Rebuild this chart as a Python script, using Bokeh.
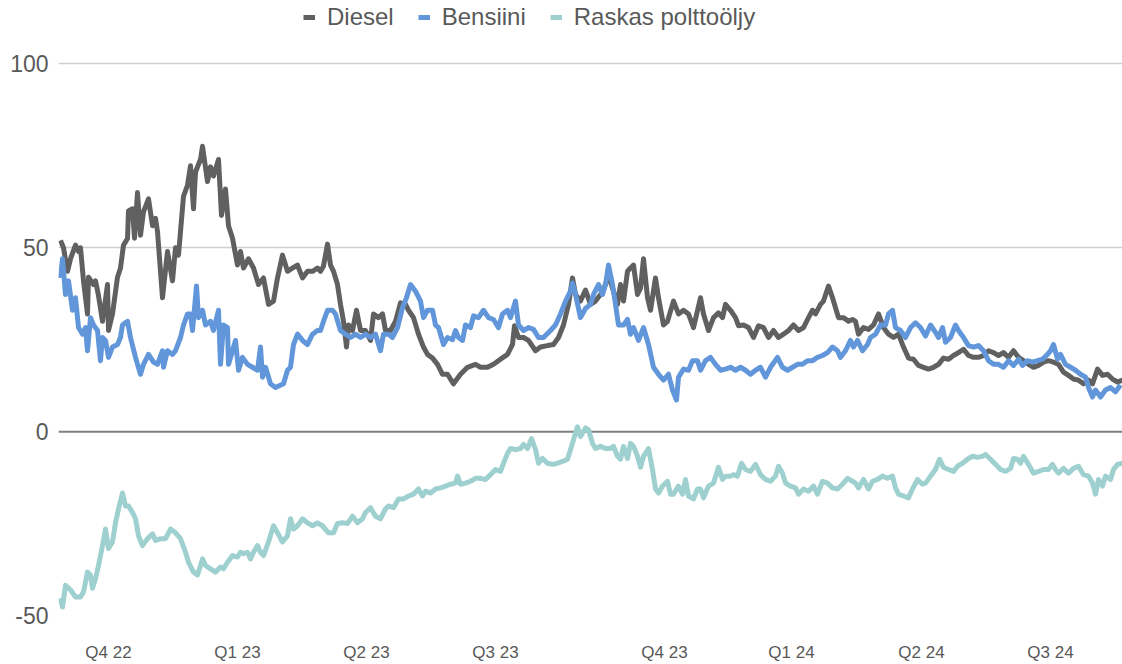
from bokeh.plotting import figure
from bokeh.models import FixedTicker, Legend, LegendItem, Span, Range1d
from bokeh.embed import file_html
from bokeh.resources import INLINE

# time index (trading-day based position) and values
diesel_t = [0,3,7,10,15,18,20,23,27,28,33,35,38,42,47,48,52,57,60,63,67,68,72,74,77,80,83,88,92,95,97,102,107,112,115,118,123,127,130,133,135,140,142,147,150,153,158,161,165,168,172,177,180,183,188,193,198,203,208,213,217,222,227,232,237,242,247,252,257,260,263,267,270,273,277,280,283,286,288,292,296,300,305,310,313,318,322,325,330,335,340,345,348,353,358,363,367,372,377,382,387,393,400,407,415,420,427,433,440,447,452,454,458,463,468,475,480,487,493,498,503,508,512,515,520,525,530,535,540,545,548,553,557,560,563,567,570,573,577,580,583,587,590,595,598,603,607,613,618,623,628,633,640,643,648,653,658,662,665,670,675,678,683,688,693,698,703,708,713,718,723,728,733,738,743,748,752,755,760,763,768,772,775,778,783,788,792,795,798,803,808,813,818,823,828,833,838,843,848,853,858,863,868,873,878,883,888,893,898,903,908,913,918,923,928,933,938,943,948,953,958,963,968,973,978,983,988,993,998,1003,1008,1013,1018,1023,1028,1032,1037,1042,1047,1052,1057,1062]
diesel_v = [52,50,43.6,47,50.7,49,50,41,32,42,40,41,37,30,40,27.5,32,42,44.5,50.7,52.5,60,60.6,52.6,65,53.4,59.8,63.3,56,58,54.4,36.4,49,41,50,48,64,67,72.3,60.6,70.6,74,77.6,68,72,69.5,74,58.8,66,56,52.6,45.3,49,44.5,47,44.5,40,41.8,34.6,35.5,41.8,48,43.6,44.5,45.3,41.8,43.6,43.6,44.5,43.6,45,51,45.3,43.6,40,34.6,30,23,29,27.5,33,27.5,27.5,24.8,32,31,32,27.5,27.5,30,35,34.6,33,31,26.5,23,21,20,18.3,15.6,15.6,13,15.6,17.5,18.3,17.5,17.5,18.3,19.7,21,23.7,28.8,25.6,25.6,24.8,22,23,23.4,23.7,25.6,29,34.6,41.8,37.3,35.5,38.5,34.6,35.5,37.3,40,42.6,38.2,34.6,40,35.5,43.6,44.5,45.3,37.3,39,47,36.4,33,41.8,36.4,29,30,35.5,32,33,32,28.3,36.4,32,27.5,31,32.3,31,34.6,33,31,28.8,29,28.3,25.6,28.8,28.3,25.6,27.5,25.6,26.5,27.5,29,27.5,28.3,31,33,32,34.6,35.5,39.6,36.4,33.7,31,31,30,30.5,30,26.5,28.3,27.8,29,32,28.3,26.5,25.6,26.5,23,20,19.7,18,17.5,17,17.5,18.3,20,19.7,20.7,21.5,22.4,20.7,20.2,20.2,20.7,22,21.5,20.7,21.5,20.2,22,20.2,19.3,18.3,17.5,18,18.9,19.3,18.9,18.3,16.2,15.3,14.3,14,13,14,13,17,15.3,15.6,14.3,13.5,14]

bensiini_t = [0,2,5,8,12,15,18,22,25,27,30,33,37,40,42,45,48,52,57,60,62,67,70,75,80,83,88,93,97,102,103,107,112,115,120,123,127,130,132,136,138,142,145,150,153,158,160,163,167,168,172,175,178,182,187,192,197,200,202,205,210,215,223,227,230,233,237,242,247,252,257,260,263,267,272,275,280,285,290,295,300,305,310,315,320,323,328,332,337,342,346,350,355,360,363,367,372,375,378,383,387,392,395,398,402,405,410,413,418,423,428,433,438,442,447,450,455,458,463,468,473,478,483,490,495,500,505,510,512,515,520,525,530,533,538,542,545,548,552,555,558,563,567,570,573,578,583,588,593,598,603,608,612,616,618,623,628,632,637,640,645,650,655,660,665,670,675,680,685,690,695,700,705,710,717,722,727,732,737,742,747,752,757,762,767,772,777,780,785,790,793,797,802,807,810,815,820,825,828,832,835,840,845,850,855,860,865,870,875,878,882,885,890,895,898,903,908,913,918,923,928,933,938,943,948,953,958,962,967,972,977,982,987,990,993,997,1000,1005,1010,1015,1020,1025,1028,1032,1035,1040,1045,1050,1055,1060]
bensiini_v = [41.8,47,37.3,41,33,36.4,28.3,26.5,28.3,22,31,29,27.5,19.3,25.6,24.8,20.2,23,23.7,25.6,29,30,25.6,20.2,15.6,18.3,21,18.9,18.3,22,17.5,22,21,22,25.6,29,32,32,27.5,39.6,31,33,29,30,27.5,33,18.3,29,28.3,18.3,22,24.8,16.7,20.2,18.3,17.5,16.7,23,14.8,17.5,13,12,13,16.7,17.5,23.7,26.5,24.8,23.7,26.5,27.5,27.5,30,33,33,32,27.5,26.5,25.6,26.5,25.6,26.5,25.6,26.5,22,26.5,26.5,25.6,28.3,33.7,36.4,40,38.2,35.5,31,33,33,29,28.3,23.7,25.6,25,27.5,25.6,24.8,29,28.3,31.5,31,33,31,30.5,28.3,32,33,31,35.5,29,27.5,28.3,27.8,25.6,25.6,27.5,29,32,35.5,38.2,40.4,37.3,31,33.5,34.6,37.3,40,37.3,40,45.3,40,34.6,29,29,30.5,26.5,28.3,24.8,28.3,23.7,17.5,15.6,14,15.6,11.3,8.6,14.8,17,16.7,19.3,19.3,16.7,19.3,20.2,18.3,16.7,17,17.5,16.7,17.5,16.7,15.6,16.7,17.5,14.8,17.5,20.2,17.5,16.7,17.5,18.3,18.3,19.3,19.3,20.2,20.7,21.5,23,22,20.2,22,24.8,23,24.8,22,23.7,25.6,26.5,29,29,32,33,28.3,27.5,25.6,28.3,29.6,28.3,26,29,27,25.6,28.3,24.3,25.6,29,27.5,25.6,23.4,23,23.4,22,19.3,18.3,18.3,17.5,19.3,18,19.7,18,19.3,18.9,19.3,19.7,21,22,23.7,19.7,21,18.3,17.5,16.7,15.6,14.8,12,9.4,11.3,9.4,11.3,12,10.8,12.7]

raskas_t = [0,2,5,10,15,20,23,27,30,32,35,38,42,45,48,52,55,58,62,65,68,72,75,78,82,87,92,95,100,105,110,115,120,125,128,133,137,142,145,150,155,160,163,167,172,177,180,183,187,190,193,197,200,203,208,213,217,222,227,230,233,237,242,247,252,257,262,268,273,277,282,287,292,297,302,305,310,315,320,325,328,333,338,343,348,353,358,362,365,370,375,380,385,390,395,397,400,405,410,415,420,425,430,435,440,443,447,450,455,460,463,467,471,475,478,482,487,492,497,502,507,510,513,517,520,525,528,532,535,540,545,550,553,557,560,563,567,570,573,577,580,583,588,592,595,598,602,607,610,613,618,622,625,628,633,637,640,643,648,653,658,662,665,670,673,677,681,685,690,695,700,705,710,715,718,722,725,730,735,738,743,748,753,757,762,767,772,777,782,787,792,795,798,803,808,812,817,822,827,832,835,838,843,848,852,857,862,865,870,875,879,883,888,893,897,902,907,912,917,922,925,930,935,940,945,950,953,957,960,963,968,973,978,983,988,992,995,998,1003,1008,1013,1018,1023,1028,1032,1035,1038,1042,1045,1050,1053,1057,1062]
raskas_v = [-45.3,-47.7,-41.8,-43,-45,-45,-43.6,-38.2,-39,-42.6,-40,-36.4,-31,-26.5,-31.8,-30,-24.8,-21,-16.7,-20.2,-20.2,-22,-23.7,-28.3,-31,-29.1,-27.8,-29.6,-29.1,-29.1,-26.5,-27.5,-29.1,-32.8,-35.5,-38.2,-39,-34.6,-36.4,-37.3,-38.2,-36.8,-37.3,-35.5,-33.7,-34.1,-32.8,-33.2,-32.8,-34.6,-32.8,-31,-32.8,-33.7,-30,-25.6,-27.5,-30,-28.3,-23.7,-26.5,-25.6,-23.7,-24.8,-25.6,-24.8,-25.6,-27.5,-27.5,-25,-24.8,-25,-23,-24.8,-23.7,-22,-20.7,-23,-23.7,-21,-20.2,-20.7,-18.3,-18.3,-17.5,-17,-15.6,-17.5,-16.2,-16.7,-15.6,-15.3,-14.8,-14.3,-14,-12.1,-14.3,-14,-13.5,-12.7,-12.7,-13,-11.7,-10.3,-10.8,-8.6,-5.9,-4.6,-4.9,-4.6,-3.5,-4.6,-1.9,-4.9,-8.6,-7.3,-8.6,-8.9,-8.6,-8.1,-7.5,-4.9,-2.2,1.3,-1.3,1.0,0.5,-3.2,-4.6,-4,-4.6,-4.6,-4,-6.7,-7.5,-4,-7.3,-3.2,-4,-6.7,-9.7,-6.7,-4.6,-10.3,-15.6,-16.7,-14.8,-13.5,-17,-17,-14.8,-17,-13,-17.5,-18.3,-15.6,-15.6,-18,-14.8,-14,-9.7,-13,-12.1,-12.1,-11.7,-12.1,-8.6,-10.3,-10.8,-8.9,-11.7,-13,-13.5,-12.1,-9.4,-11.3,-14,-14.8,-15.3,-17,-15.6,-16.2,-14.8,-17,-13.5,-14,-15.3,-15.6,-14.3,-12.7,-13.5,-14,-15.3,-13,-15.6,-13.5,-13,-12.1,-12.7,-12.1,-15.3,-17,-17.5,-18,-15.6,-13,-14.3,-14,-12.1,-10.3,-7.5,-9.7,-10.3,-10.8,-9.4,-8.6,-7.5,-6.7,-7,-6.7,-6.2,-7.5,-8.9,-10.3,-10.8,-10,-7.3,-7.5,-8.6,-6.7,-8.9,-11.3,-10.8,-10.3,-10.3,-8.9,-10.3,-11.3,-10,-11.3,-10,-9.4,-11.7,-12.1,-14,-17,-13,-14.8,-12.1,-13,-10.3,-8.9,-8.6]

quarter_labels = ["Q4 22", "Q1 23", "Q2 23", "Q3 23", "Q4 23", "Q1 24", "Q2 24", "Q3 24"]
quarter_pos = [48, 177, 306, 435, 604, 731, 861, 990]
y_ticks = [-50, 0, 50, 100]
y_tick_labels = ["-50", "0", "50", "100"]

FONT = "Liberation Sans"
TXT = "#595959"

# frame spans full height above the axis; the extra room above 100 holds the legend
p = figure(width=1122, height=664, output_backend="svg", toolbar_location=None,
           x_range=Range1d(-2, 1062), y_range=Range1d(-50, 117.24),
           min_border_left=58, min_border_right=0, min_border_top=0, min_border_bottom=43)
p.outline_line_color = None
p.background_fill_color = "white"
p.border_fill_color = "white"

p.xgrid.grid_line_color = None
p.ygrid.ticker = FixedTicker(ticks=[-50, 50, 100])
p.ygrid.grid_line_color = "#d0d0d0"
p.ygrid.grid_line_width = 1.5

zero = Span(location=0, dimension="width", line_color="#808080", line_width=2, level="underlay")
p.add_layout(zero)

p.yaxis.ticker = FixedTicker(ticks=y_ticks)
p.yaxis.major_label_overrides = {t: s for t, s in zip(y_ticks, y_tick_labels)}
p.yaxis.axis_line_color = None
p.yaxis.major_tick_line_color = None
p.yaxis.minor_tick_line_color = None
p.yaxis.major_tick_out = 0
p.yaxis.major_label_text_font = FONT
p.yaxis.major_label_text_font_size = "23px"
p.yaxis.major_label_text_color = TXT
p.yaxis.major_label_standoff = 10

p.xaxis.ticker = FixedTicker(ticks=quarter_pos)
p.xaxis.major_label_overrides = {pos: lab for pos, lab in zip(quarter_pos, quarter_labels)}
p.xaxis.axis_line_color = None
p.xaxis.major_tick_line_color = None
p.xaxis.minor_tick_line_color = None
p.xaxis.major_tick_out = 0
p.xaxis.major_label_text_font = FONT
p.xaxis.major_label_text_font_size = "17px"
p.xaxis.major_label_text_color = TXT
p.xaxis.major_label_standoff = 27

r_d = p.line(diesel_t, diesel_v, line_color="#606060", line_width=5, line_join="round")
r_b = p.line(bensiini_t, bensiini_v, line_color="#6197DA", line_width=5, line_join="round")
r_r = p.line(raskas_t, raskas_v, line_color="#9FD0D0", line_width=5, line_join="round")

legend = Legend(items=[LegendItem(label="Diesel", renderers=[r_d]),
                       LegendItem(label="Bensiini", renderers=[r_b]),
                       LegendItem(label="Raskas polttoöljy", renderers=[r_r])],
                orientation="horizontal", location=(245, 584),
                padding=0, margin=0, spacing=24, label_standoff=12,
                glyph_width=12, glyph_height=20,
                label_text_font=FONT, label_text_font_size="24px", label_text_color=TXT,
                border_line_color=None, background_fill_alpha=0)
p.add_layout(legend)

open("out.html", "w").write(file_html(p, INLINE))
